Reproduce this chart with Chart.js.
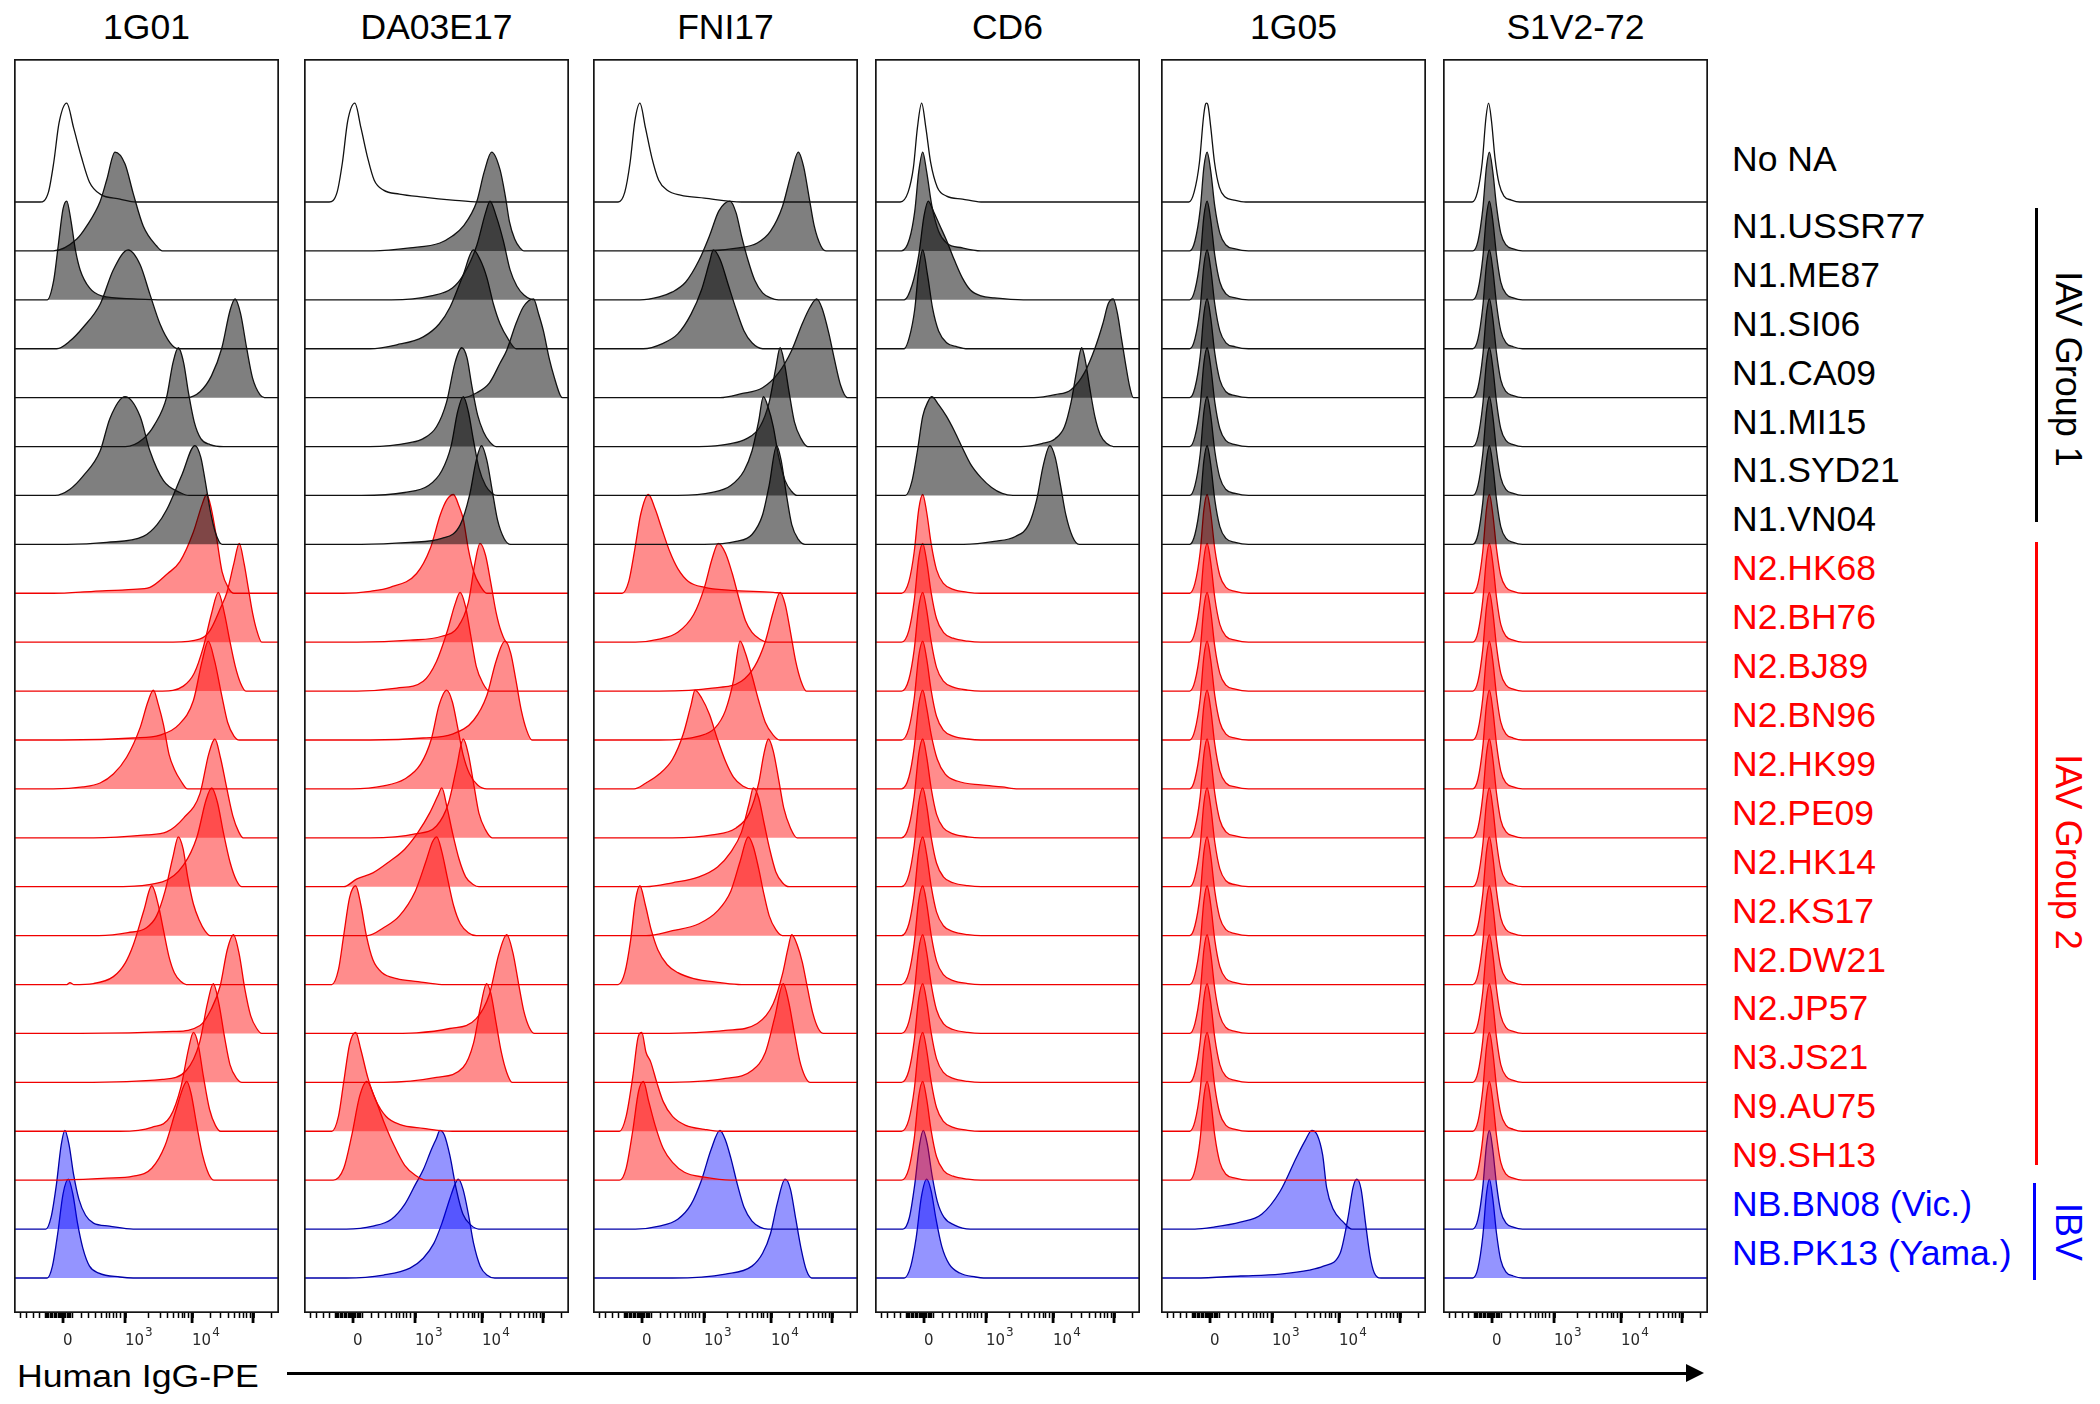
<!DOCTYPE html>
<html>
<head>
<meta charset="utf-8">
<script src="https://cdn.jsdelivr.net/npm/chart.js@4.4.1/dist/chart.umd.min.js"></script>
<style>
body{margin:0;width:2100px;height:1404px;position:relative;overflow:hidden;background:#fff;font-family:"Liberation Sans",Arial,sans-serif;color:#000}
.panel{position:absolute;top:59px}
.panel canvas{display:block}
.title{position:absolute;top:28px;font-size:35.5px;line-height:1;white-space:nowrap;transform:translate(-50%,-50%)}
.rowlab{position:absolute;left:1732px;font-size:35.5px;line-height:1;white-space:nowrap;transform:translateY(-50%)}
.bracket{position:absolute;width:3px}
.group{position:absolute;font-size:36px;line-height:1;white-space:nowrap;transform:translate(-50%,-50%) rotate(90deg)}
.xlabel{position:absolute;left:17px;top:1361px;font-size:31px;line-height:1;white-space:nowrap;transform:scaleX(1.15);transform-origin:0 0}
.arrow-line{position:absolute;left:287px;top:1371.5px;width:1401px;height:3px;background:#000}
.arrow-head{position:absolute;left:1686px;top:1364px;width:0;height:0;border-top:9px solid transparent;border-bottom:9px solid transparent;border-left:18px solid #000}
</style>
</head>
<body>
<div class="bracket" style="left:2035px;top:208px;height:314px;background:#000"></div>
<div class="bracket" style="left:2035px;top:542px;height:623px;background:#f00"></div>
<div class="bracket" style="left:2033px;top:1183px;height:97px;background:#00f"></div>
<div class="group" style="left:2068px;top:369px;color:#000">IAV Group 1</div>
<div class="group" style="left:2068px;top:852px;color:#f00">IAV Group 2</div>
<div class="group" style="left:2068px;top:1232px;color:#00f">IBV</div>
<div class="xlabel">Human IgG-PE</div>
<div class="arrow-line"></div>
<div class="arrow-head"></div>
<script>
// panels (antibodies) and rows (NA antigens), top row first
const PANEL_TITLES = ['1G01', 'DA03E17', 'FNI17', 'CD6', '1G05', 'S1V2-72'];
const ROWS = ['No NA', 'N1.USSR77', 'N1.ME87', 'N1.SI06', 'N1.CA09', 'N1.MI15', 'N1.SYD21', 'N1.VN04',
  'N2.HK68', 'N2.BH76', 'N2.BJ89', 'N2.BN96', 'N2.HK99', 'N2.PE09', 'N2.HK14', 'N2.KS17', 'N2.DW21',
  'N2.JP57', 'N3.JS21', 'N9.AU75', 'N9.SH13', 'NB.BN08 (Vic.)', 'NB.PK13 (Yama.)'];
const ROW_GROUP = ['ctrl', 'g1', 'g1', 'g1', 'g1', 'g1', 'g1', 'g1',
  'g2', 'g2', 'g2', 'g2', 'g2', 'g2', 'g2', 'g2', 'g2', 'g2', 'g2', 'g2', 'g2', 'ibv', 'ibv'];

// x axis in display channels (0..1000 across the plot), biexponential ticks
const MAJOR_TICKS = [185, 419, 672, 902];
const MAJOR_LABELS = ['0', '10', '10', ''];
const MAJOR_EXP = ['', '3', '4', ''];
const MINOR_TICKS = [23, 49, 72, 98, 117, 122, 127, 132, 137, 142, 147, 152, 157, 162, 167, 172, 177, 181, 190, 195, 200, 205, 210, 215, 219,
  255, 280, 306, 331, 350, 362, 375, 388, 400, 506, 551, 581, 600, 619, 634, 645, 657,
  740, 781, 811, 833, 851, 866, 879, 891, 970];

// histograms: [channel, % of mode], one list per row
const HIST_1G01 = [
  [[98,0],[130,10],[150,40],[170,80],[199,100],[225,75],[255,45],[285,20],[325,8],[400,3],[460,0]],
  [[148,0],[237,12],[274,25],[325,50],[350,72],[381,100],[419,88],[450,58],[488,25],[538,5],[560,0]],
  [[125,0],[150,20],[167,55],[185,92],[199,100],[215,80],[232,50],[250,30],[285,12],[330,4],[450,1],[560,0]],
  [[161,0],[212,8],[262,22],[325,45],[375,80],[431,100],[476,85],[513,55],[551,25],[589,6],[620,0]],
  [[650,0],[702,6],[745,22],[784,50],[815,88],[834,100],[855,85],[878,50],[900,20],[928,3],[945,0]],
  [[420,0],[488,8],[530,22],[576,50],[600,85],[620,100],[640,85],[658,55],[680,25],[705,8],[740,2],[790,0]],
  [[155,0],[210,6],[262,20],[325,45],[362,78],[419,100],[476,80],[513,45],[564,15],[626,3],[660,0]],
  [[199,0],[350,2],[488,8],[540,20],[576,35],[633,70],[683,100],[705,88],[721,65],[740,35],[760,12],[785,0]],
  [[148,0],[300,2],[450,4],[513,6],[580,20],[626,32],[677,62],[710,90],[727,100],[745,85],[765,55],[785,22],[810,5],[830,0]],
  [[600,0],[700,3],[740,12],[780,35],[803,50],[830,80],[850,100],[868,80],[884,55],[900,30],[916,12],[935,0]],
  [[560,0],[639,5],[680,18],[715,45],[745,78],[771,100],[793,80],[815,50],[835,25],[855,8],[875,0]],
  [[180,0],[450,2],[551,5],[620,15],[677,40],[710,80],[733,100],[757,80],[784,45],[806,18],[830,4],[850,0]],
  [[148,0],[260,2],[325,6],[375,15],[425,32],[476,62],[505,88],[526,100],[545,85],[564,65],[585,35],[605,20],[630,8],[655,0]],
  [[300,0],[500,3],[576,6],[640,20],[702,45],[735,85],[758,100],[780,80],[803,50],[826,22],[848,6],[865,0]],
  [[350,0],[560,5],[640,22],[690,50],[725,88],[746,100],[768,85],[790,55],[815,25],[840,6],[860,0]],
  [[320,0],[430,3],[500,8],[538,20],[570,45],[600,80],[620,100],[638,88],[655,60],[677,32],[700,15],[720,5],[740,0]],
  [[200,0],[211,2],[225,0],[300,1],[375,8],[420,22],[450,40],[490,75],[520,100],[545,80],[564,55],[585,28],[605,12],[630,3],[650,0]],
  [[250,0],[600,2],[702,8],[745,25],[778,48],[805,85],[828,100],[850,80],[871,45],[893,18],[916,5],[935,0]],
  [[250,0],[560,3],[650,12],[700,40],[730,80],[752,100],[773,80],[795,45],[815,18],[840,4],[860,0]],
  [[400,0],[520,4],[590,15],[630,45],[660,85],[677,100],[695,88],[715,55],[738,22],[760,6],[780,0]],
  [[148,0],[350,2],[450,4],[520,12],[570,35],[610,70],[640,95],[652,100],[668,88],[690,55],[712,25],[735,6],[755,0]],
  [[120,0],[140,12],[160,45],[178,85],[192,100],[208,85],[225,55],[245,30],[270,14],[300,6],[360,3],[450,0]],
  [[125,0],[145,12],[165,45],[185,85],[205,100],[222,85],[240,55],[260,30],[285,12],[320,5],[400,1],[450,0]]
];

const HIST_DA03E17 = [
  [[95,0],[125,10],[145,40],[165,82],[192,100],[215,75],[240,45],[265,22],[300,12],[360,8],[450,5],[560,2],[660,0]],
  [[262,0],[400,3],[513,8],[560,15],[601,25],[652,50],[680,80],[708,100],[740,82],[760,55],[775,30],[795,12],[815,3],[830,0]],
  [[330,0],[480,4],[560,12],[601,25],[652,55],[685,88],[702,100],[725,85],[752,60],[778,30],[803,14],[830,5],[870,0]],
  [[249,0],[350,4],[450,12],[510,25],[551,42],[601,75],[639,100],[665,90],[690,72],[715,45],[740,25],[770,10],[800,0]],
  [[600,0],[652,5],[700,15],[740,35],[765,48],[800,75],[828,92],[866,100],[885,85],[903,68],[925,40],[945,20],[966,3],[975,0]],
  [[249,0],[400,4],[450,8],[500,20],[538,45],[570,85],[595,100],[615,90],[633,62],[655,32],[677,15],[700,5],[725,0]],
  [[216,0],[380,3],[470,10],[520,25],[555,50],[580,85],[601,100],[620,85],[640,55],[660,28],[685,10],[710,2],[730,0]],
  [[216,0],[400,2],[520,6],[590,20],[625,50],[650,85],[670,100],[690,85],[710,55],[730,25],[755,6],[780,0]],
  [[148,0],[250,2],[325,6],[425,20],[476,45],[515,80],[540,95],[564,100],[585,88],[601,75],[620,45],[640,22],[664,8],[690,0]],
  [[200,0],[400,2],[520,6],[580,15],[620,40],[645,80],[664,100],[685,88],[705,60],[725,30],[745,10],[765,0]],
  [[200,0],[350,3],[450,10],[500,30],[540,60],[570,88],[589,100],[610,85],[630,55],[650,25],[675,8],[700,0]],
  [[250,0],[450,2],[560,6],[640,20],[690,45],[725,80],[758,100],[780,88],[800,60],[820,30],[840,10],[860,0]],
  [[180,0],[300,3],[380,10],[440,25],[480,50],[510,85],[538,100],[560,88],[580,62],[600,35],[625,15],[655,4],[690,0]],
  [[250,0],[420,4],[500,12],[545,35],[575,70],[601,100],[620,85],[640,55],[660,25],[685,8],[710,0]],
  [[150,0],[200,8],[260,14],[320,25],[380,38],[430,55],[475,75],[505,92],[520,100],[540,80],[560,55],[585,28],[610,10],[640,2],[660,0]],
  [[240,0],[300,8],[360,20],[420,45],[460,75],[485,95],[501,100],[520,85],[540,60],[565,30],[590,12],[620,3],[650,0]],
  [[105,0],[130,15],[150,50],[172,88],[195,100],[215,80],[235,50],[260,25],[295,12],[350,6],[430,3],[520,0]],
  [[300,0],[550,5],[650,15],[700,40],[735,80],[765,100],[788,82],[810,50],[830,22],[850,6],[870,0]],
  [[300,0],[500,5],[600,15],[640,40],[665,75],[689,100],[705,90],[725,60],[745,30],[765,10],[785,0]],
  [[105,0],[130,15],[150,50],[172,88],[195,100],[215,82],[240,55],[270,32],[310,15],[360,7],[450,3],[560,0]],
  [[110,0],[150,12],[180,45],[210,85],[237,100],[265,85],[300,60],[340,35],[380,15],[420,5],[460,0]],
  [[160,0],[260,3],[330,10],[380,25],[420,45],[450,60],[480,80],[500,92],[513,100],[530,95],[550,75],[575,40],[600,15],[630,4],[660,0]],
  [[160,0],[300,3],[400,10],[450,20],[490,35],[520,55],[550,80],[570,95],[582,100],[600,90],[620,65],[640,35],[665,12],[690,3],[720,0]]
];

const HIST_FNI17 = [
  [[95,0],[120,10],[140,40],[158,82],[177,100],[198,75],[222,45],[248,22],[280,12],[330,7],[420,4],[560,0]],
  [[420,0],[550,3],[620,8],[670,20],[715,45],[745,75],[775,100],[795,85],[815,55],[835,25],[860,5],[880,0]],
  [[177,0],[250,3],[300,8],[350,18],[400,40],[440,65],[475,90],[517,100],[540,88],[560,65],[585,40],[610,20],[640,7],[670,2],[700,0]],
  [[190,0],[260,5],[320,15],[370,35],[410,60],[440,88],[454,100],[480,90],[510,65],[540,40],[570,18],[600,6],[640,0]],
  [[480,0],[560,4],[640,10],[700,25],[750,48],[790,75],[820,92],[844,100],[865,90],[890,65],[910,40],[935,12],[960,0]],
  [[400,0],[520,3],[580,8],[630,20],[665,45],[690,80],[706,100],[722,85],[740,55],[760,25],[785,8],[810,0]],
  [[320,0],[450,3],[520,10],[570,25],[600,45],[625,75],[643,100],[660,90],[680,70],[700,40],[725,15],[750,4],[770,0]],
  [[420,0],[540,3],[600,10],[640,30],[665,60],[693,100],[710,85],[730,50],[750,20],[775,5],[800,0]],
  [[110,0],[135,12],[158,45],[180,80],[209,100],[235,85],[260,65],[290,42],[320,25],[360,12],[420,6],[520,3],[680,1],[720,0]],
  [[160,0],[250,3],[320,10],[380,28],[420,55],[450,85],[473,100],[500,90],[525,70],[550,45],[575,22],[600,10],[630,3],[660,0]],
  [[250,0],[450,3],[560,10],[610,25],[650,50],[680,80],[706,100],[725,88],[745,60],[765,30],[785,10],[805,0]],
  [[250,0],[400,4],[460,12],[500,30],[530,60],[555,100],[575,88],[600,65],[625,40],[650,18],[680,5],[705,0]],
  [[155,0],[200,6],[250,15],[300,30],[340,55],[370,85],[385,100],[410,92],[440,75],[470,50],[500,28],[530,12],[565,3],[600,0]],
  [[300,0],[450,3],[540,10],[590,25],[625,55],[645,85],[662,100],[680,88],[700,60],[720,30],[745,10],[770,0]],
  [[200,0],[300,4],[400,10],[470,20],[520,35],[560,55],[590,85],[605,100],[625,90],[645,65],[665,40],[690,15],[715,4],[740,0]],
  [[200,0],[300,5],[400,12],[470,25],[520,45],[555,75],[586,100],[605,90],[625,68],[645,42],[665,20],[690,6],[715,0]],
  [[95,0],[120,12],[142,45],[160,85],[177,100],[198,80],[220,55],[245,35],[280,20],[320,12],[380,6],[480,2],[560,0]],
  [[250,0],[500,3],[620,10],[680,30],[715,60],[735,85],[750,100],[770,90],[790,72],[810,45],[830,20],[850,5],[870,0]],
  [[250,0],[500,4],[600,12],[650,30],[685,65],[718,100],[738,82],[760,50],[780,22],[800,6],[820,0]],
  [[100,0],[125,15],[150,55],[170,95],[184,100],[200,80],[218,70],[240,50],[265,30],[300,15],[350,6],[420,2],[480,0]],
  [[100,0],[125,12],[150,50],[172,90],[190,100],[210,80],[235,55],[265,32],[300,18],[345,8],[420,3],[520,0]],
  [[160,0],[250,3],[320,10],[370,25],[410,50],[445,80],[479,100],[500,90],[520,72],[545,45],[570,22],[600,8],[630,2],[660,0]],
  [[300,0],[500,4],[600,12],[640,25],[670,45],[695,75],[725,100],[745,90],[765,60],[785,30],[805,8],[825,0]]
];

// narrow peaks that repeat row after row near 0
const CD6_RED = [[100,0],[128,12],[148,42],[165,85],[180,100],[195,82],[212,50],[232,24],[258,10],[295,4],[350,1],[400,0]];
const CD6_RED_TAIL = [[100,0],[128,12],[148,42],[165,85],[180,100],[195,82],[212,55],[235,30],[265,15],[310,8],[400,4],[480,2],[540,0]];
const HIST_CD6 = [
  [[95,0],[125,10],[145,35],[160,75],[176,100],[192,75],[210,40],[235,15],[270,6],[330,3],[400,0]],
  [[100,0],[130,12],[150,40],[165,80],[180,100],[195,80],[215,45],[240,20],[270,8],[330,3],[400,0]],
  [[110,0],[140,15],[165,45],[185,85],[201,100],[220,90],[245,75],[270,60],[300,40],[330,22],[360,10],[400,4],[450,2],[560,0]],
  [[110,0],[130,12],[150,40],[165,80],[180,100],[198,75],[218,40],[240,18],[270,6],[310,2],[350,0]],
  [[600,0],[680,3],[740,8],[790,25],[830,50],[860,75],[880,95],[899,100],[915,85],[930,60],[945,35],[962,10],[975,0]],
  [[550,0],[630,3],[680,8],[715,20],[740,45],[760,75],[780,100],[795,85],[810,60],[830,30],[850,12],[875,3],[900,0]],
  [[115,0],[140,15],[160,45],[180,80],[200,95],[214,100],[240,92],[270,80],[300,65],[330,48],[360,32],[400,18],[440,8],[480,2],[520,0]],
  [[335,0],[450,3],[530,8],[580,20],[610,45],[635,80],[660,100],[680,88],[700,60],[720,30],[745,8],[770,0]],
  CD6_RED, CD6_RED, CD6_RED, CD6_RED, CD6_RED_TAIL, CD6_RED, CD6_RED, CD6_RED, CD6_RED, CD6_RED, CD6_RED, CD6_RED, CD6_RED,
  [[105,0],[130,12],[150,45],[168,85],[182,100],[198,85],[215,55],[235,28],[260,12],[300,4],[360,0]],
  [[110,0],[135,12],[155,40],[175,82],[195,100],[212,88],[230,60],[252,32],[280,14],[320,5],[380,1],[410,0]]
];

const G05_CTRL = [[105,0],[125,10],[145,40],[160,85],[167,98],[172,100],[178,97],[188,75],[202,40],[220,15],[242,5],[275,2],[320,0]];
const G05_STAIN = [[108,0],[128,10],[148,42],[162,85],[174,100],[188,80],[203,45],[222,18],[245,6],[280,2],[330,0]];
const HIST_1G05 = [
  G05_CTRL, G05_STAIN, G05_STAIN, G05_STAIN, G05_STAIN, G05_STAIN, G05_STAIN, G05_STAIN,
  G05_STAIN, G05_STAIN, G05_STAIN, G05_STAIN, G05_STAIN, G05_STAIN, G05_STAIN, G05_STAIN, G05_STAIN,
  G05_STAIN, G05_STAIN, G05_STAIN, G05_STAIN,
  [[128,0],[200,2],[299,7],[380,15],[449,38],[512,73],[545,90],[569,100],[590,95],[610,75],[625,42],[650,20],[688,7],[720,0]],
  [[128,0],[300,2],[450,4],[560,8],[613,12],[676,25],[705,60],[725,92],[739,100],[755,90],[772,55],[789,22],[805,5],[830,0]]
];

const S1_CTRL = [[110,0],[130,10],[148,40],[162,85],[172,100],[183,82],[196,45],[212,18],[230,6],[258,2],[290,0]];
const S1_STAIN = [[112,0],[132,10],[150,42],[164,85],[175,100],[188,80],[202,45],[218,18],[238,6],[265,2],[300,0]];
const HIST_S1V2 = [
  S1_CTRL, S1_STAIN, S1_STAIN, S1_STAIN, S1_STAIN, S1_STAIN, S1_STAIN, S1_STAIN,
  S1_STAIN, S1_STAIN, S1_STAIN, S1_STAIN, S1_STAIN, S1_STAIN, S1_STAIN, S1_STAIN, S1_STAIN,
  S1_STAIN, S1_STAIN, S1_STAIN, S1_STAIN, S1_STAIN, S1_STAIN
];

const PANEL_HISTS = [HIST_1G01, HIST_DA03E17, HIST_FNI17, HIST_CD6, HIST_1G05, HIST_S1V2];

// styling / layout
const LINE_COLOR = {ctrl: '#111', g1: '#111', g2: '#f00000', ibv: '#0000a8'};
const FILL_COLOR = {ctrl: 'rgba(0,0,0,0)', g1: 'rgba(0,0,0,0.5)', g2: 'rgba(255,0,0,0.45)', ibv: 'rgba(0,0,255,0.42)'};
const LABEL_COLOR = {ctrl: '#000', g1: '#000', g2: '#ff0000', ibv: '#0000ff'};
const PANEL_LEFT = [14, 304, 593, 875, 1161, 1443];
const PANEL_TOP = 59, PANEL_W = 265, PLOT_H = 1254, AXIS_H = 60;
const TICK_FONT = 15, EXP_FONT = 12, TICK_PAD = 14, TICK_LEN = 5;
const Y_MAX = 25.64;      // rows from plot bottom to top
const PEAK_ROWS = 2.02;   // height of the mode in row spacings
const rowBase = i => 22.716 - i;

const ALL_TICKS = MINOR_TICKS.concat(MAJOR_TICKS).sort((a, b) => a - b);

// box around each panel, longer major ticks, and raised exponents on 10^n labels
const framePlugin = {
  id: 'frame',
  afterDraw(chart){
    const {ctx, chartArea: a} = chart;
    const x = chart.scales.x;
    ctx.save();
    ctx.strokeStyle = '#151515';
    ctx.lineWidth = 1.7;
    ctx.strokeRect(a.left + 0.85, a.top + 0.85, a.width - 1.7, a.height - 1.7);
    ctx.fillStyle = '#000';
    MAJOR_TICKS.forEach(v => {
      const px = x.getPixelForValue(v);
      ctx.fillRect(px - 1.4, a.bottom, 2.8, 10);
    });
    const mid = a.bottom + TICK_LEN + TICK_PAD + TICK_FONT * 1.2 / 2;
    ctx.fillStyle = '#2a2a2a';
    ctx.textBaseline = 'alphabetic';
    ctx.textAlign = 'left';
    MAJOR_TICKS.forEach((v, k) => {
      if (!MAJOR_EXP[k]) return;
      ctx.font = TICK_FONT + 'px "DejaVu Sans"';
      const w = ctx.measureText(MAJOR_LABELS[k]).width;
      ctx.font = EXP_FONT + 'px "DejaVu Sans"';
      ctx.fillText(MAJOR_EXP[k], x.getPixelForValue(v) + w + 1, mid - 5);
    });
    ctx.restore();
  }
};

const charts = [];
PANEL_TITLES.forEach((title, p) => {
  const wrap = document.createElement('div');
  wrap.className = 'panel';
  wrap.style.left = PANEL_LEFT[p] + 'px';
  const cv = document.createElement('canvas');
  cv.width = PANEL_W;
  cv.height = PLOT_H + AXIS_H;
  cv.style.width = PANEL_W + 'px';
  cv.style.height = (PLOT_H + AXIS_H) + 'px';
  wrap.appendChild(cv);
  document.body.appendChild(wrap);

  const t = document.createElement('div');
  t.className = 'title';
  t.textContent = title;
  t.style.left = (PANEL_LEFT[p] + PANEL_W / 2) + 'px';
  document.body.appendChild(t);

  const datasets = PANEL_HISTS[p].map((pts, i) => {
    const g = ROW_GROUP[i];
    const b = rowBase(i);
    return {
      label: ROWS[i],
      data: [{x: 0, y: b}].concat(pts.map(q => ({x: q[0], y: b + q[1] / 100 * PEAK_ROWS})), [{x: 1000, y: b}]),
      borderColor: LINE_COLOR[g],
      backgroundColor: FILL_COLOR[g],
      borderWidth: 1.3,
      fill: g === 'ctrl' ? false : {value: b},
      pointRadius: 0,
      cubicInterpolationMode: 'monotone'
    };
  });

  charts.push(new Chart(cv, {
    type: 'line',
    data: {datasets},
    options: {
      responsive: false,
      animation: false,
      devicePixelRatio: 1,
      events: [],
      layout: {padding: 0},
      plugins: {legend: {display: false}, tooltip: {enabled: false}},
      scales: {
        x: {
          type: 'linear', min: 0, max: 1000, position: 'bottom',
          afterBuildTicks: s => { s.ticks = ALL_TICKS.map(v => ({value: v})); },
          afterFit: s => { s.height = AXIS_H; s.paddingLeft = 0; s.paddingRight = 0; },
          ticks: {
            autoSkip: false, maxRotation: 0, minRotation: 0, align: 'start', padding: TICK_PAD,
            color: '#2a2a2a', font: {family: 'DejaVu Sans', size: TICK_FONT},
            callback: v => { const k = MAJOR_TICKS.indexOf(v); return k >= 0 ? MAJOR_LABELS[k] : ''; }
          },
          grid: {display: true, drawOnChartArea: false, drawTicks: true, tickLength: TICK_LEN,
                 tickColor: '#000', tickWidth: c => (c.tick && MAJOR_TICKS.includes(c.tick.value)) ? 2.8 : 1.5},
          border: {display: false}
        },
        y: {display: false, min: 0, max: Y_MAX}
      }
    },
    plugins: [framePlugin]
  }));
});

// row labels on the right, placed with the panels' y scale
const ys = charts[0].scales.y;
ROWS.forEach((name, i) => {
  const d = document.createElement('div');
  d.className = 'rowlab';
  d.textContent = name;
  d.style.color = LABEL_COLOR[ROW_GROUP[i]];
  const lift = i === 0 ? 0.85 : 0.49;
  d.style.top = (PANEL_TOP + ys.getPixelForValue(rowBase(i) + lift)) + 'px';
  document.body.appendChild(d);
});
</script>
</body>
</html>
